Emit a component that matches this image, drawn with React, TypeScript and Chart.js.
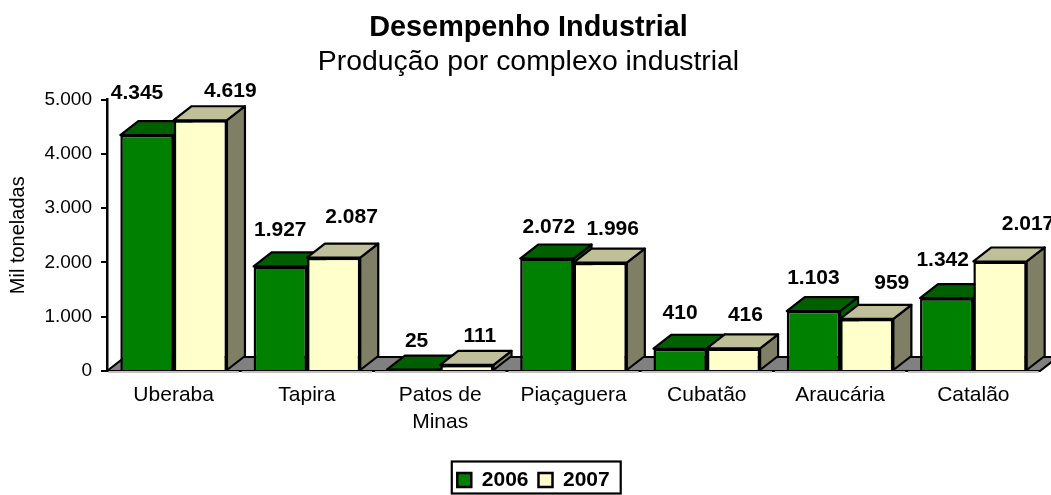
import React, { useEffect, useRef } from "react";
import { Chart, registerables } from "chart.js";

Chart.register(...registerables);

const categories: (string | string[])[] = ["Uberaba", "Tapira", ["Patos de", "Minas"], "Piaçaguera", "Cubatão", "Araucária", "Catalão"];
const values2006 = [4345, 1927, 25, 2072, 410, 1103, 1342];
const values2007 = [4619, 2087, 111, 1996, 416, 959, 2017];
const yTicks = [0, 1000, 2000, 3000, 4000, 5000];

const labelShift2006 = [[-10, -42], [0, -36], [3, -28], [2, -31], [0, -36], [0, -33], [-4, -38]];
const labelShift2007 = [[30, -29], [18, -40], [13, -29], [12.5, -33], [12, -33], [25, -36], [28, -37]];

const FONT = "'Liberation Sans', Arial, sans-serif";
const DEPTH_X = 18;
const DEPTH_Y = 14;

const faces = [
  { front: "#008000", top: "#006000", side: "#006000" },
  { front: "#FFFFCC", top: "#BFBF99", side: "#7F7F66" },
];

const fmt = (v: number) => String(v).replace(/\B(?=(\d{3})+$)/g, ".");

function poly(ctx: CanvasRenderingContext2D, pts: number[][], fill: string) {
  ctx.beginPath();
  pts.forEach(([x, y], i) => (i ? ctx.lineTo(x, y) : ctx.moveTo(x, y)));
  ctx.closePath();
  ctx.fillStyle = fill;
  ctx.fill();
  ctx.strokeStyle = "#000";
  ctx.lineWidth = 2.2;
  ctx.lineJoin = "round";
  ctx.stroke();
}

const depthPlugin = {
  id: "depth",
  afterLayout(chart: any) {
    chart.legend.left += 5;
    chart.legend.right += 5;
    chart.legend.top += 5.5;
    chart.legend.bottom += 5.5;
  },
  beforeDatasetsDraw(chart: any) {
    const { ctx, chartArea: a } = chart;
    ctx.save();
    poly(ctx, [[a.left, a.bottom], [a.left + DEPTH_X, a.bottom - DEPTH_Y], [a.right + DEPTH_X, a.bottom - DEPTH_Y], [a.right, a.bottom]], "#808080");
    [0, 1].forEach((d) => {
      const f = faces[d];
      chart.getDatasetMeta(d).data.forEach((b: any) => {
        const l = b.x - b.width / 2;
        const r = b.x + b.width / 2;
        const t = b.y;
        const base = b.base;
        poly(ctx, [[r, t], [r + DEPTH_X, t - DEPTH_Y], [r + DEPTH_X, base - DEPTH_Y], [r, base]], f.side);
        poly(ctx, [[l, t], [l + DEPTH_X, t - DEPTH_Y], [r + DEPTH_X, t - DEPTH_Y], [r, t]], f.top);
      });
    });
    ctx.restore();
  },
  afterDatasetsDraw(chart: any) {
    const { ctx, chartArea: a, scales } = chart;
    const step = a.width / categories.length;
    ctx.save();
    ctx.strokeStyle = "#C0C0C0";
    ctx.lineWidth = 2;
    categories.forEach((_, i) => {
      const c = scales.x.getPixelForValue(i);
      ctx.beginPath();
      ctx.moveTo(c - step / 2 + 1.5, a.bottom + 1);
      ctx.lineTo(c + step / 2 - 1.5, a.bottom + 1);
      ctx.stroke();
    });
    ctx.fillStyle = "#000";
    ctx.font = `bold 21px ${FONT}`;
    ctx.textAlign = "center";
    ctx.textBaseline = "middle";
    [labelShift2006, labelShift2007].forEach((shift, d) => {
      chart.getDatasetMeta(d).data.forEach((b: any, i: number) => {
        ctx.fillText(fmt(chart.data.datasets[d].data[i]), b.x + shift[i][0], b.y + shift[i][1]);
      });
    });
    const boxes = chart.legend.legendHitBoxes;
    const left = boxes[0].left - 5.5;
    const right = boxes[boxes.length - 1].left + boxes[boxes.length - 1].width + 11;
    ctx.strokeStyle = "#000";
    ctx.lineWidth = 2.2;
    ctx.strokeRect(left, 461.5, right - left, 32);
    ctx.restore();
  },
};

export default function App() {
  const ref = useRef<HTMLCanvasElement>(null);
  useEffect(() => {
    const chart = new Chart(ref.current!, {
      type: "bar",
      data: {
        labels: categories as any,
        datasets: [
          { label: "2006", data: values2006, backgroundColor: faces[0].front, borderColor: "#000", borderWidth: 2.5 },
          { label: "2007", data: values2007, backgroundColor: faces[1].front, borderColor: "#000", borderWidth: 2.5 },
        ],
      },
      plugins: [depthPlugin],
      options: {
        animation: false,
        responsive: false,
        devicePixelRatio: 1,
        layout: { padding: { left: 17, right: 11, top: 0, bottom: 0 } },
        datasets: { bar: { categoryPercentage: 0.8, barPercentage: 1 } },
        plugins: {
          title: { display: true, text: "Desempenho Industrial", color: "#000", font: { family: FONT, size: 28.8, weight: "bold", lineHeight: 1.2 }, padding: { top: 11, bottom: 0 } },
          subtitle: { display: true, text: "Produção por complexo industrial", color: "#000", font: { family: FONT, size: 28.4, weight: "normal", lineHeight: 1.2 }, padding: { top: 0, bottom: 19.9 } },
          legend: {
            position: "bottom",
            labels: { color: "#000", font: { family: FONT, size: 21, weight: "bold" }, boxWidth: 14, boxHeight: 14, padding: 10 },
          },
          tooltip: { enabled: false },
        },
        scales: {
          x: {
            afterFit: (s: any) => { s.height = 83; },
            grid: { display: false },
            border: { display: false },
            ticks: { color: "#000", autoSkip: false, maxRotation: 0, minRotation: 0, padding: 3, font: { family: FONT, size: 21, lineHeight: 1.29 } },
          },
          y: {
            min: 0,
            max: 5000,
            afterFit: (s: any) => { s.width = 90; },
            afterBuildTicks: (s: any) => { s.ticks = yTicks.map((value) => ({ value })); },
            grid: { drawOnChartArea: false, drawTicks: true, tickLength: 6, color: "#000", lineWidth: 2 },
            border: { display: true, color: "#000", width: 2.5 },
            ticks: { color: "#000", padding: 9, callback: (v: any) => fmt(v), font: { family: FONT, size: 19 } },
            title: { display: true, text: "Mil toneladas", color: "#000", font: { family: FONT, size: 20 }, padding: { top: -11, bottom: 0 } },
          },
        },
      },
    } as any);
    return () => chart.destroy();
  }, []);
  return (
    <div style={{ position: "absolute", left: 0, top: 0, width: 1051, height: 495, overflow: "hidden" }}>
      <canvas ref={ref} width={1051} height={495} style={{ display: "block" }} />
    </div>
  );
}
